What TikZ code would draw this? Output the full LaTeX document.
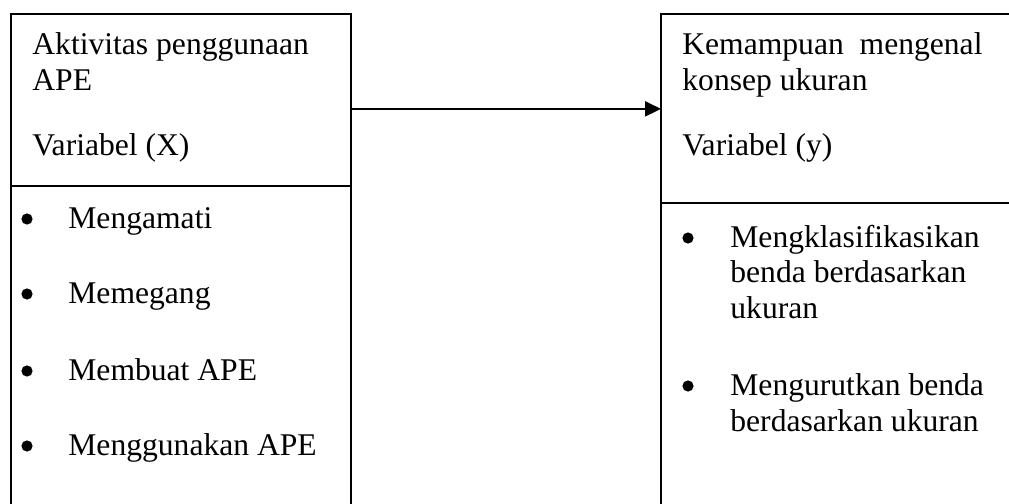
\documentclass[tikz,border=0pt]{standalone}
\usepackage{fontspec}
\setmainfont{Liberation Serif}
\usetikzlibrary{arrows.meta}
\begin{document}
\begin{tikzpicture}[x=0.5pt,y=-0.5pt,
  txt/.style={anchor=base west,inner sep=0pt,font=\fontsize{15.8}{18}\selectfont},
  dot/.style={circle,fill=black,inner sep=0pt,minimum size=5.6pt},
  border/.style={line width=1.1pt,line join=miter},
  region/.style={inner sep=0pt,anchor=north west}]
\useasboundingbox (0,0) rectangle (1009,504);
% regions
\node[region,minimum width=170pt,minimum height=86pt] (lhead) at (11,14) {};
\node[region,minimum width=175pt,minimum height=94.5pt] (rhead) at (661,14) {};
% borders
\draw[border] (11,506) -- (11,14) -- (351,14) -- (351,506);
\draw[border] (11,186) -- (351,186);
\draw[border] (1012,14) -- (661,14) -- (661,506);
\draw[border] (661,203) -- (1012,203);
% left header
\node[txt] (l1) at (32,54) {Aktivitas penggunaan};
\node[txt] (l2) at (32,90) {APE};
\node[txt] (l3) at (32,155) {Variabel (X)};
% right header
\node[txt] (r1) at (682,54) {Kemampuan\ \ mengenal};
\node[txt] (r2) at (682,90) {konsep ukuran};
\node[txt] (r3) at (682,155) {Variabel (y)};
% left items
\node[dot] (lb1) at (27,219) {};
\node[txt] (li1) at (68,228) {Mengamati};
\node[dot] (lb2) at (27,294) {};
\node[txt] (li2) at (68,303) {Memegang};
\node[dot] (lb3) at (27,371) {};
\node[txt] (li3) at (68,380) {Membuat APE};
\node[dot] (lb4) at (27,446) {};
\node[txt] (li4) at (68,455) {Menggunakan APE};
% right items
\node[dot] (rb1) at (688,238) {};
\node[txt] (ri1a) at (730,247) {Mengklasifikasikan};
\node[txt] (ri1b) at (730,282) {benda berdasarkan};
\node[txt] (ri1c) at (730,318) {ukuran};
\node[dot] (rb2) at (688,386) {};
\node[txt] (ri2a) at (730,395) {Mengurutkan benda};
\node[txt] (ri2b) at (730,431) {berdasarkan ukuran};
% arrow
\draw[line width=1.1pt,-{Triangle[length=8pt,width=7.5pt]}] (lhead.east |- rhead.west) -- (rhead.west);
\end{tikzpicture}
\end{document}
